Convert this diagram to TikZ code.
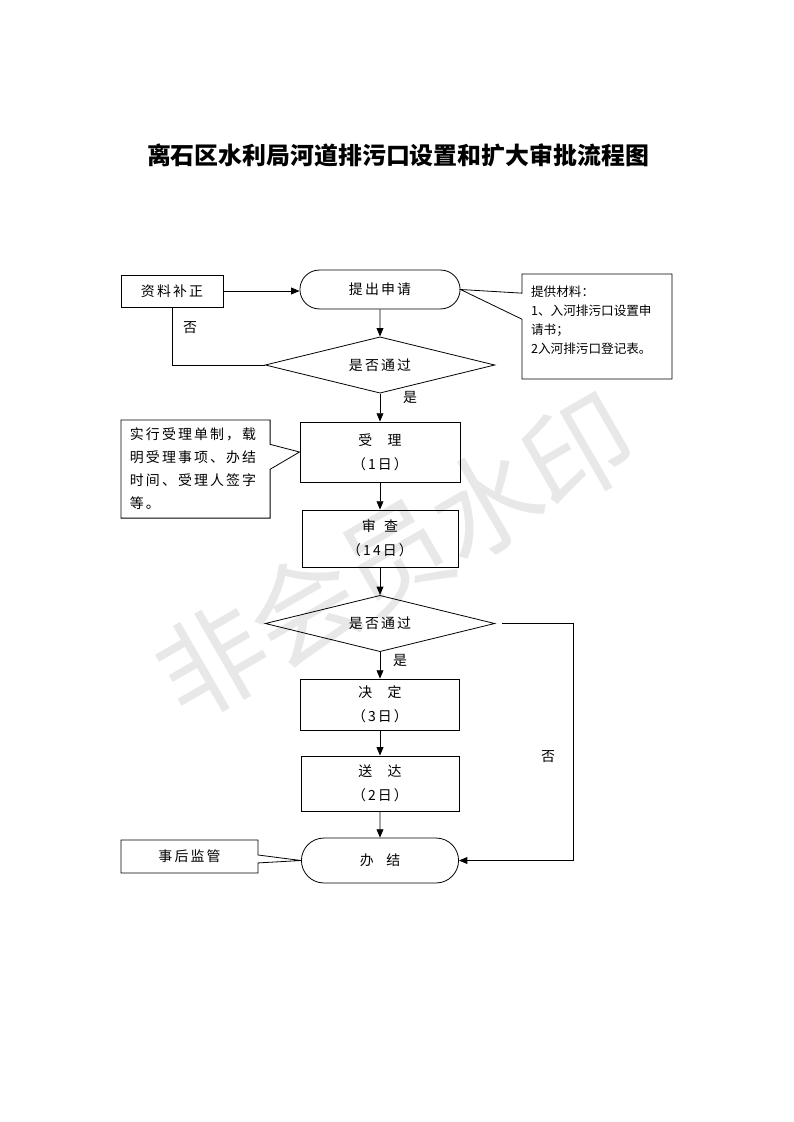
\documentclass[tikz,border=0pt]{standalone}
\usepackage{fontspec}
\setmainfont{Noto Sans CJK SC}[LetterSpace=15]
\newfontfamily\biaoti{Noto Sans CJK SC}
\newfontfamily\shuiyin{Noto Sans CJK SC}[LetterSpace=-3]
\usetikzlibrary{shapes.geometric, shapes.misc, shapes.callouts, arrows.meta}
\tikzset{>={Triangle[length=2.2mm,width=1.8mm]},
         box/.style={draw,line width=0.6pt,align=center,inner sep=0pt,font=\fontsize{10.5pt}{18pt}\selectfont},
         pill/.style={box,rounded rectangle},
         judge/.style={box,diamond,aspect=4.1,minimum width=6.08cm,minimum height=1.49cm},
         note/.style={draw,line width=0.6pt,rectangle callout,align=left,inner xsep=0.24cm,inner ysep=0pt},
         tag/.style={font=\fontsize{10.5pt}{12pt}\selectfont},
        }

\begin{document}
\begin{tikzpicture}[x=0.02648cm,y=-0.02648cm,line width=0.6pt]
        \useasboundingbox (0,0) rectangle (793,1122);
        \node[rotate=30,text=black!9,font=\shuiyin\fontsize{82pt}{82pt}\selectfont](wm)at(395,556){非会员水印};
        \node[font=\biaoti\bfseries\fontsize{18pt}{18pt}\selectfont](title)at(398,155){离石区水利局河道排污口设置和扩大审批流程图};

        \node[pill,minimum width=4.24cm,minimum height=1.03cm](sq)at(380,289.5){提出申请};
        \node[box,minimum width=2.7cm,minimum height=0.85cm](bz)at(172,291){资料补正};
        \node[judge](pd1)at(380,365){是否通过};
        \node[box,minimum width=4.24cm,minimum height=1.59cm](sl)at(380,452){受\hspace{1.1em}理\\（1日）};
        \node[box,minimum width=4.13cm,minimum height=1.51cm](sc)at(380,538.5){审\hspace{0.6em}查\\（14日）};
        \node[judge](pd2)at(380,623.5){是否通过};
        \node[box,minimum width=4.21cm,minimum height=1.35cm](jd)at(380,704.5){决\hspace{1.1em}定\\（3日）};
        \node[box,minimum width=4.18cm,minimum height=1.46cm](sd)at(380,783.5){送\hspace{1.1em}达\\（2日）};
        \node[pill,minimum width=4.16cm,minimum height=1.19cm](bj)at(380,860.5){办\hspace{0.9em}结};

        \node[note,minimum width=3.97cm,minimum height=2.78cm,text width=3.49cm,text depth=53.5pt,
              callout absolute pointer={(sq.east)},callout pointer width=0.69cm,
              font=\biaoti\fontsize{9.5pt}{14.3pt}\selectfont](cl)at(597,326.5){提供材料：\\1、入河排污口设置申\\请书；\\2入河排污口登记表。};
        \node[note,minimum width=3.95cm,minimum height=2.6cm,text width=3.47cm,
              callout absolute pointer={(sl.west)},callout pointer width=0.66cm,
              font=\fontsize{10.5pt}{17.3pt}\selectfont](dz)at(195.5,469){实行受理单制，载\\明受理事项、办结\\时间、受理人签字\\等。};
        \node[note,minimum width=3.63cm,minimum height=0.87cm,align=center,
              callout absolute pointer={(bj.west)},callout pointer width=0.21cm,
              font=\fontsize{10.5pt}{12pt}\selectfont](jg)at(189.5,856.5){事后监管};

        \node[tag](f1)at(190,328){否};
        \node[tag](s1)at(410,397){是};
        \node[tag](s2)at(400,660){是};
        \node[tag](f2)at(548,757){否};

        \draw[->](bz.east)--(bz.east-|sq.west);
        \draw[->](sq)--(pd1);
        \draw(pd1.west)-|(bz.south);
        \draw[->](pd1)--(sl);
        \draw[->](sl)--(sc);
        \draw[->](sc)--(pd2);
        \draw[->](pd2)--(jd);
        \draw[->](jd)--(sd);
        \draw[->](sd)--(bj);

        \coordinate(zj)at(573,623.5);
        \draw[->]([xshift=0.18cm]pd2.east)--(zj)|-(bj.east);
    \end{tikzpicture}
\end{document}
